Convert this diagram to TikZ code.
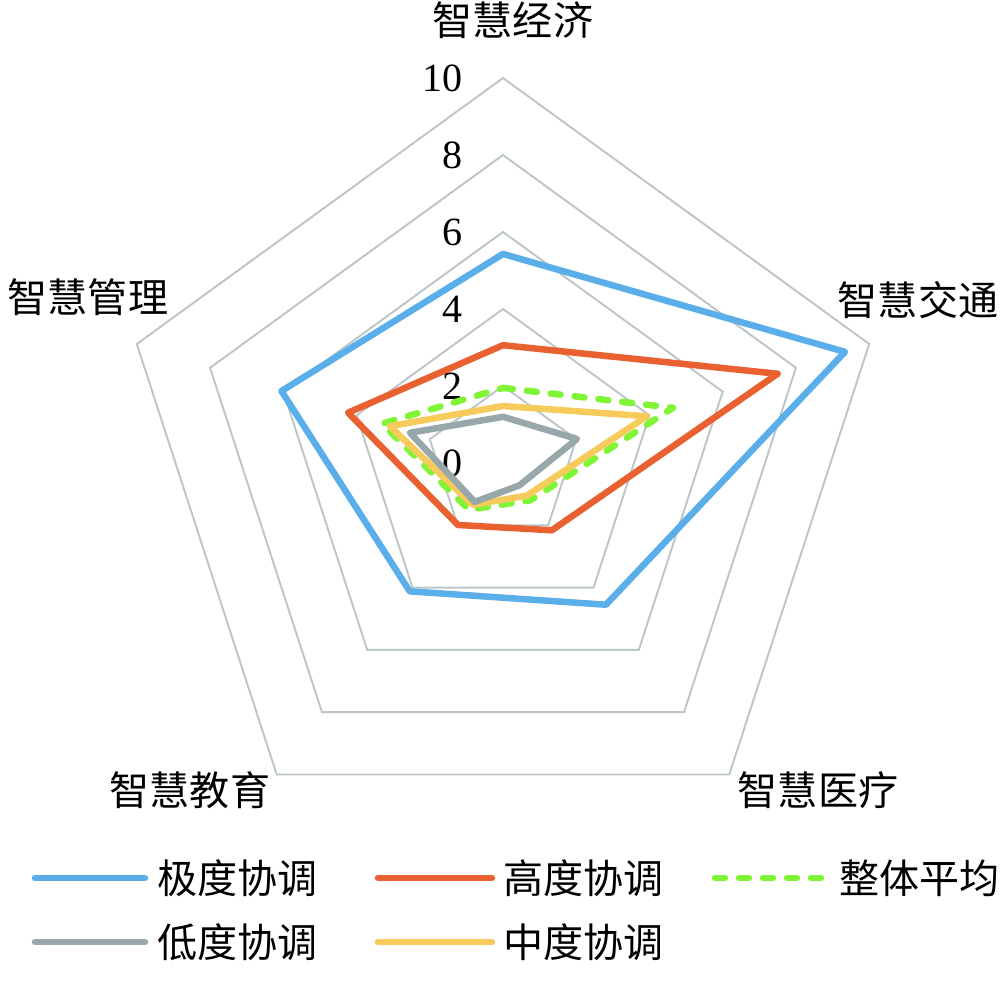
\documentclass[tikz,border=0pt]{standalone}
\usepackage{fontspec}
\setmainfont{Liberation Serif}
\newfontfamily\cjk{Noto Sans CJK SC}
\definecolor{jiduc}{HTML}{5AAEEA}
\definecolor{gaoduc}{HTML}{EA6131}
\definecolor{pingjunc}{HTML}{7FF536}
\definecolor{zhongduc}{HTML}{F6CB5B}
\definecolor{diduc}{HTML}{98A8AA}
\definecolor{ringc}{HTML}{BCC6C7}
\tikzset{
  ring/.style={draw=ringc, line width=1.1pt},
  series/.style={line width=3.7pt, line join=round, line cap=round},
  jidu/.style={series, draw=jiduc},
  gaodu/.style={series, draw=gaoduc},
  pingjun/.style={series, draw=pingjunc, dash pattern=on 0.2cm off 0.28cm},
  zhongdu/.style={series, draw=zhongduc},
  didu/.style={series, draw=diduc},
  axlabel/.style={font=\cjk\fontsize{22.8}{27}\selectfont, inner sep=0pt},
  vallabel/.style={font=\fontsize{22.8}{27}\selectfont, inner sep=0pt, anchor=east},
  lglabel/.style={font=\cjk\fontsize{22.8}{27}\selectfont, inner sep=0pt, anchor=west},
}
\begin{document}
\begin{tikzpicture}
\useasboundingbox (-10.06,-10.54) rectangle (9.94,9.26);
\begin{scope}[x=0.77cm, y=0.77cm]
% rings
\foreach \r in {2,4,6,8,10}
  \draw[ring] (90:\r) -- (18:\r) -- (-54:\r) -- (-126:\r) -- (162:\r) -- cycle;
% scale numbers
\foreach \r in {0,2,4,6,8,10}
  \node[vallabel] (v\r) at ([xshift=-0.8cm]90:\r) {\r};
% data points
\coordinate (jd1) at (90:5.43);  \coordinate (jd2) at (18:9.34);
\coordinate (jd3) at (-54:4.55); \coordinate (jd4) at (-126:4.12);
\coordinate (jd5) at (162:6.05);
\coordinate (gd1) at (90:3.06);  \coordinate (gd2) at (18:7.5);
\coordinate (gd3) at (-54:2.16); \coordinate (gd4) at (-126:1.99);
\coordinate (gd5) at (162:4.23);
\coordinate (pj1) at (90:1.95);  \coordinate (pj2) at (18:4.64);
\coordinate (pj3) at (-54:1.2);  \coordinate (pj4) at (-126:1.5);
\coordinate (pj5) at (162:3.3);
\coordinate (zd1) at (90:1.48);  \coordinate (zd2) at (18:3.93);
\coordinate (zd3) at (-54:1.05); \coordinate (zd4) at (-126:1.34);
\coordinate (zd5) at (162:3.09);
\coordinate (dd1) at (90:1.2);   \coordinate (dd2) at (18:2.02);
\coordinate (dd3) at (-54:0.72); \coordinate (dd4) at (-126:1.25);
\coordinate (dd5) at (162:2.54);
\end{scope}
\draw[jidu] (jd1) -- (jd2) -- (jd3) -- (jd4) -- (jd5) -- cycle;
\draw[gaodu] (gd1) -- (gd2) -- (gd3) -- (gd4) -- (gd5) -- cycle;
\draw[pingjun] (pj1) -- (pj2) -- (pj3) -- (pj4) -- (pj5) -- cycle;
\draw[zhongdu] (zd1) -- (zd2) -- (zd3) -- (zd4) -- (zd5) -- cycle;
\draw[didu] (dd1) -- (dd2) -- (dd3) -- (dd4) -- (dd5) -- cycle;
% axis names
\node[axlabel] (jingji) at (0.2,8.86) {智慧经济};
\node[axlabel] (jiaotong) at (8.3,3.26) {智慧交通};
\node[axlabel] (yiliao) at (6.3,-6.54) {智慧医疗};
\node[axlabel] (jiaoyu) at (-6.26,-6.54) {智慧教育};
\node[axlabel] (guanli) at (-8.3,3.32) {智慧管理};
% legend
\coordinate (lgjd0) at (-9.36,-8.3); \coordinate (lgjd1) at (-7.16,-8.3);
\coordinate (lggd0) at (-2.5,-8.3);  \coordinate (lggd1) at (-0.22,-8.3);
\coordinate (lgpj0) at (4.24,-8.3);  \coordinate (lgpj1) at (6.58,-8.3);
\coordinate (lgdd0) at (-9.36,-9.58); \coordinate (lgdd1) at (-7.16,-9.58);
\coordinate (lgzd0) at (-2.5,-9.58);  \coordinate (lgzd1) at (-0.22,-9.58);
\draw[jidu] (lgjd0) -- (lgjd1);
\draw[gaodu] (lggd0) -- (lggd1);
\draw[pingjun] (lgpj0) -- (lgpj1);
\draw[didu] (lgdd0) -- (lgdd1);
\draw[zhongdu] (lgzd0) -- (lgzd1);
\node[lglabel] (tjd) at (-6.92,-8.3) {极度协调};
\node[lglabel] (tgd) at (0,-8.3) {高度协调};
\node[lglabel] (tpj) at (6.72,-8.3) {整体平均};
\node[lglabel] (tdd) at (-6.92,-9.58) {低度协调};
\node[lglabel] (tzd) at (0,-9.58) {中度协调};
\end{tikzpicture}
\end{document}
